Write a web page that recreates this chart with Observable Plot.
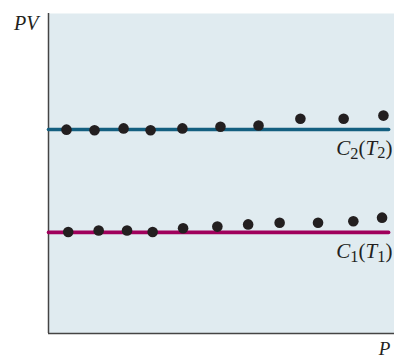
<!DOCTYPE html>
<html>
<head>
<meta charset="utf-8">
<script src="https://cdn.jsdelivr.net/npm/d3@7"></script>
<script src="https://cdn.jsdelivr.net/npm/@observablehq/plot@0.6"></script>
<style>
  html, body { margin: 0; padding: 0; background: #ffffff; }
  #chart svg { display: block; }
</style>
</head>
<body>
<div id="chart"></div>
<script>
// Measured points for curve C2 (temperature T2)
const p2 = [0.52, 1.33, 2.17, 2.95, 3.87, 4.97, 6.07, 7.28, 8.53, 9.68];
const pv2 = [6.37, 6.35, 6.41, 6.35, 6.41, 6.46, 6.50, 6.71, 6.71, 6.81];
// Measured points for curve C1 (temperature T1)
const p1 = [0.57, 1.45, 2.27, 3.01, 3.89, 4.88, 5.77, 6.68, 7.79, 8.81, 9.64];
const pv1 = [3.17, 3.22, 3.22, 3.17, 3.29, 3.34, 3.41, 3.46, 3.46, 3.51, 3.62];
// Ideal-gas reference levels
const levels = [6.375, 3.16];
const levelNames = ["C2(T2)", "C1(T1)"];
const lineEnd = 9.83;
const axisLabels = ["PV", "P"];

const pts2 = p2.map((p, i) => ({p, pv: pv2[i]}));
const pts1 = p1.map((p, i) => ({p, pv: pv1[i]}));
const lineColors = ["#145f80", "#a0005c"];
const lines = levels.map((v, i) => ({
  name: levelNames[i], color: lineColors[i],
  pts: [{p: 0, pv: v}, {p: lineEnd, pv: v}]
}));

const serif = "'Liberation Serif', 'DejaVu Serif', serif";

const chart = Plot.plot({
  width: 394,
  height: 358,
  marginLeft: 48,
  marginRight: 0,
  marginTop: 13,
  marginBottom: 25,
  x: {domain: [0, 10], axis: null},
  y: {domain: [0, 10], axis: null},
  style: {background: "#ffffff", fontFamily: serif},
  marks: [
    Plot.frame({fill: "#e0ebf0", stroke: null}),
    Plot.ruleX([0], {stroke: "#444444", strokeWidth: 1.5}),
    Plot.ruleY([0], {stroke: "#444444", strokeWidth: 1.5}),
    ...lines.map(l => Plot.line(l.pts, {x: "p", y: "pv", stroke: l.color, strokeWidth: 3.6})),
    Plot.dot(pts2, {x: "p", y: "pv", r: 5.3, fill: "#231f20", stroke: null}),
    Plot.dot(pts1, {x: "p", y: "pv", r: 5.3, fill: "#231f20", stroke: null}),
    Plot.text([levelNames[0]], {x: 9.94, y: 5.80, text: d => d, textAnchor: "end", fontSize: 21, fill: "#231f20", className: "sublabel"}),
    Plot.text([levelNames[1]], {x: 9.94, y: 2.56, text: d => d, textAnchor: "end", fontSize: 21, fill: "#231f20", className: "sublabel"}),
    Plot.text([axisLabels[0]], {x: -0.29, y: 9.70, text: d => d, textAnchor: "end", fontSize: 20, fontStyle: "italic", fill: "#231f20", clip: false}),
    Plot.text([axisLabels[1]], {x: 9.88, y: -0.47, text: d => d, textAnchor: "end", fontSize: 19, fontStyle: "italic", fill: "#231f20", clip: false})
  ]
});

// Render italic letters and upright subscripts as tspans
d3.select(chart).selectAll("g.sublabel text").each(function() {
  const t = d3.select(this);
  const s = t.text();
  t.text(null);
  const parts = s.match(/[A-Za-z]|\d|[()]/g);
  let shifted = false;
  parts.forEach(part => {
    const span = t.append("tspan").text(part);
    if (/\d/.test(part)) {
      span.attr("dy", "0.24em").attr("font-size", "0.78em");
      shifted = true;
    } else {
      if (shifted) { span.attr("dy", "-0.19em"); shifted = false; }
      if (/[A-Za-z]/.test(part)) span.attr("font-style", "italic");
    }
  });
});

document.getElementById("chart").appendChild(chart);
</script>
</body>
</html>
